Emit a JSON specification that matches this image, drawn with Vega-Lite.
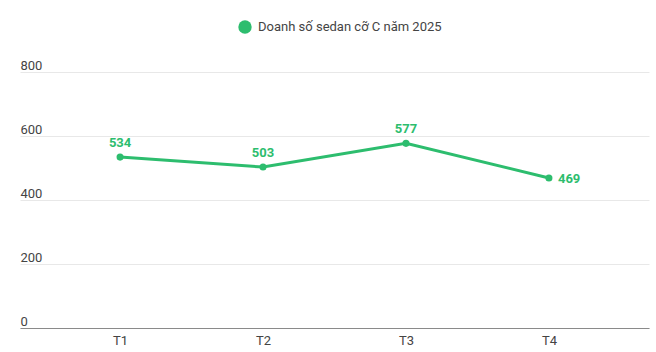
{
  "$schema": "https://vega.github.io/schema/vega-lite/v6.json",
  "width": 629,
  "height": 256,
  "autosize": {"type": "none"},
  "padding": {"left": 20, "top": 72, "right": 7, "bottom": 24},
  "background": "white",
  "config": {
    "font": "Roboto",
    "view": {"stroke": null}
  },
  "data": {
    "values": [
      {"q": "T1", "v": 534, "s": "Doanh số sedan cỡ C năm 2025"},
      {"q": "T2", "v": 503, "s": "Doanh số sedan cỡ C năm 2025"},
      {"q": "T3", "v": 577, "s": "Doanh số sedan cỡ C năm 2025"},
      {"q": "T4", "v": 469, "s": "Doanh số sedan cỡ C năm 2025"}
    ]
  },
  "encoding": {
    "x": {
      "field": "q", "type": "ordinal",
      "scale": {"type": "point", "padding": 0.7},
      "axis": {
        "title": null, "labelAngle": 0, "ticks": false, "grid": false,
        "domainColor": "#8a8a8a", "domainWidth": 1.2,
        "labelColor": "#444444", "labelFontSize": 13, "labelPadding": 6
      }
    },
    "y": {
      "field": "v", "type": "quantitative",
      "scale": {"domain": [0, 800]},
      "axis": {
        "title": null, "values": [0, 200, 400, 600, 800], "ticks": false, "domain": false,
        "gridColor": "#e8e8e8", "gridWidth": 1,
        "labelAlign": "left", "labelBaseline": "bottom", "labelPadding": 0, "labelDy": -4,
        "labelColor": "#444444", "labelFontSize": 13
      }
    }
  },
  "layer": [
    {
      "mark": {"type": "line", "strokeWidth": 3, "color": "#2dbd6e"},
      "encoding": {
        "color": {
          "field": "s", "type": "nominal",
          "scale": {"range": ["#2dbd6e"]},
          "legend": {
            "title": null, "orient": "none", "legendX": 218, "legendY": -52,
            "symbolType": "circle", "symbolSize": 180, "symbolStrokeWidth": 0,
            "symbolFillColor": "#2dbd6e", "symbolOpacity": 1, "labelLimit": 400,
            "labelFontSize": 13, "labelColor": "#444444", "labelFontWeight": "normal", "labelOffset": 6
          }
        }
      }
    },
    {
      "mark": {"type": "point", "filled": true, "size": 50, "opacity": 1, "color": "#2dbd6e"}
    },
    {
      "transform": [{"filter": "datum.q !== 'T4'"}],
      "mark": {"type": "text", "dy": -14, "fontSize": 13, "fontWeight": "bold", "color": "#2dbd6e"},
      "encoding": {"text": {"field": "v", "type": "quantitative"}}
    },
    {
      "transform": [{"filter": "datum.q === 'T4'"}],
      "mark": {"type": "text", "align": "left", "dx": 9, "dy": 1, "fontSize": 13, "fontWeight": "bold", "color": "#2dbd6e"},
      "encoding": {"text": {"field": "v", "type": "quantitative"}}
    }
  ]
}
